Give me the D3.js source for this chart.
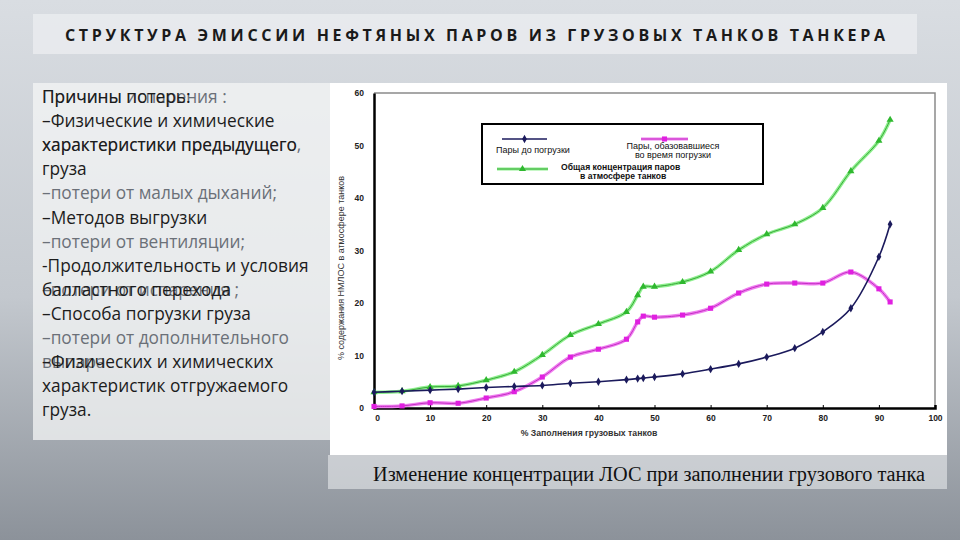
<!DOCTYPE html>
<html>
<head>
<meta charset="utf-8">
<script src="https://cdn.jsdelivr.net/npm/d3@7"></script>
<style>
  html, body { margin: 0; padding: 0; }
  body { width: 960px; height: 540px; overflow: hidden; }
  svg { display: block; }
</style>
</head>
<body>
<svg id="chart" width="960" height="540"></svg>
<script>
// data
var fillPct = [0, 5, 10, 15, 20, 25, 30, 35, 40, 45, 47, 48, 50, 55, 60, 65, 70, 75, 80, 85, 90, 92];
var vaporsBefore = [3.0, 3.2, 3.4, 3.6, 3.9, 4.1, 4.3, 4.7, 5.0, 5.4, 5.6, 5.7, 5.9, 6.5, 7.4, 8.4, 9.7, 11.4, 14.5, 19.0, 28.8, 35.0];
var vaporsDuring = [0.3, 0.4, 1.0, 0.9, 1.9, 3.1, 5.9, 9.7, 11.2, 13.1, 16.4, 17.5, 17.3, 17.7, 19.0, 21.9, 23.6, 23.8, 23.8, 25.9, 22.7, 20.2];
var vaporsTotal = [3.0, 3.2, 4.0, 4.2, 5.3, 6.9, 10.1, 13.9, 16.0, 18.3, 21.5, 23.1, 23.1, 24.0, 26.0, 30.1, 33.1, 35.0, 38.1, 45.1, 50.9, 54.9];
var xTicks = [0, 10, 20, 30, 40, 50, 60, 70, 80, 90, 100];
var yTicks = [0, 10, 20, 30, 40, 50, 60];

var titleText = "СТРУКТУРА  ЭМИССИИ НЕФТЯНЫХ ПАРОВ ИЗ ГРУЗОВЫХ ТАНКОВ ТАНКЕРА";
var captionText = "Изменение концентрации  ЛОС при заполнении грузового танка";
// two text layers that overlap on the slide
var linesDark = [
  [0, "Причины потерь:"], [1, "–Физические и химические"], [2, "характеристики предыдущего"],
  [3, "груза"], [5, "–Методов выгрузки"], [7, "-Продолжительность и условия"],
  [8, "балластного перехода"], [9, "–Способа  погрузки груза"], [11, "–Физических и химических"],
  [12, "характеристик отгружаемого"], [13, "груза."]
];
var linesGrey = [
  [0, "Причины испарения :"], [2, "характеристики предыдущего,"], [4, "–потери от малых дыханий;"],
  [6, "–потери от вентиляции;"], [8, "–потери от испарения ;"], [10, "–потери от дополнительного"],
  [11, "выпара"]
];

var svg = d3.select("#chart");
var defs = svg.append("defs");

// background gradient
var bg = defs.append("linearGradient").attr("id", "bg")
    .attr("x1", 0).attr("y1", 0).attr("x2", 0).attr("y2", 1);
bg.append("stop").attr("offset", "0%").attr("stop-color", "#d9dde2");
bg.append("stop").attr("offset", "55%").attr("stop-color", "#c3c8ce");
bg.append("stop").attr("offset", "100%").attr("stop-color", "#8c929a");
svg.append("rect").attr("width", 960).attr("height", 540).attr("fill", "url(#bg)");

// title band
svg.append("rect").attr("x", 33).attr("y", 14).attr("width", 884).attr("height", 40)
    .attr("fill", "#eef0f2").attr("opacity", 0.7);
svg.append("text").attr("x", 65).attr("y", 41)
    .attr("textLength", 820).attr("lengthAdjust", "spacing")
    .attr("font-family", "'Open Sans', sans-serif").attr("font-size", 16).attr("font-weight", 700)
    .attr("fill", "#1a1a1a").text(titleText);

// left text panel
svg.append("rect").attr("x", 33).attr("y", 83).attr("width", 297).attr("height", 357)
    .attr("fill", "#f4f5f6").attr("opacity", 0.75);

var lineY = function(i) { return 103 + i * 24.1; };
svg.append("g").selectAll("text").data(linesGrey).enter().append("text")
    .attr("x", 42).attr("y", function(d) { return lineY(d[0]); })
    .attr("font-family", "'Open Sans', sans-serif").attr("font-size", 17.3)
    .attr("fill", "#6b7078").text(function(d) { return d[1]; });
svg.append("g").selectAll("text").data(linesDark).enter().append("text")
    .attr("x", 42).attr("y", function(d) { return lineY(d[0]); })
    .attr("font-family", "'Open Sans', sans-serif").attr("font-size", 17.3)
    .attr("fill", "#1c1c1c").text(function(d) { return d[1]; });

// chart panel and caption band
svg.append("rect").attr("x", 330).attr("y", 83).attr("width", 617).attr("height", 372)
    .attr("fill", "#ffffff");
svg.append("rect").attr("x", 328).attr("y", 455).attr("width", 619).attr("height", 34)
    .attr("fill", "#eef0f2").attr("opacity", 0.55);
svg.append("text").attr("x", 373).attr("y", 481)
    .attr("textLength", 552).attr("lengthAdjust", "spacingAndGlyphs")
    .attr("font-family", "'Liberation Serif', 'Times New Roman', serif").attr("font-size", 20)
    .attr("fill", "#111").text(captionText);

// scales
var x = d3.scaleLinear().domain([0, 100]).range([374, 935]);
var y = d3.scaleLinear().domain([0, 60]).range([408, 93]);

// frame
svg.append("path")
    .attr("d", "M" + x(0) + "," + y(60) + "H" + x(100) + "V" + y(0))
    .attr("fill", "none").attr("stroke", "#8a8a8a").attr("stroke-width", 1.5);

// axes
var xAxis = svg.append("g").attr("transform", "translate(0," + y(0) + ")")
    .call(d3.axisBottom(x).tickValues(xTicks).tickSize(-3).tickPadding(7));
var yAxis = svg.append("g").attr("transform", "translate(" + x(0) + ",0)")
    .call(d3.axisLeft(y).tickValues(yTicks).tickSize(0).tickPadding(10));
[xAxis, yAxis].forEach(function(a) {
  a.select(".domain").attr("stroke", "#000").attr("stroke-width", 2.5);
  a.selectAll(".tick line").attr("stroke", "#000");
  a.selectAll(".tick text").attr("font-family", "Arial, 'Liberation Sans', sans-serif")
      .attr("font-size", 8.5).attr("font-weight", "bold").attr("fill", "#222");
});
xAxis.select(".tick text").attr("dx", 3);

svg.append("text").attr("x", 589).attr("y", 436).attr("text-anchor", "middle")
    .attr("font-family", "Arial, 'Liberation Sans', sans-serif").attr("font-size", 8.7)
    .attr("font-weight", "bold").attr("fill", "#333").text("% Заполнения грузовых танков");
svg.append("text").attr("transform", "translate(344,268) rotate(-90)").attr("text-anchor", "middle")
    .attr("font-family", "Arial, 'Liberation Sans', sans-serif").attr("font-size", 9)
    .attr("fill", "#333").text("% содержания НМЛОС  в атмосфере танков");

// series
var line = d3.line()
    .x(function(d) { return x(d[0]); })
    .y(function(d) { return y(d[1]); })
    .curve(d3.curveCatmullRom.alpha(0.5));

function pairs(vals) { return fillPct.map(function(p, i) { return [p, vals[i]]; }); }

var series = [
  { vals: vaporsTotal, halo: "#8ef08e", stroke: "#3aa83a", fill: "#2fb82f", symbol: d3.symbolTriangle, size: 22 },
  { vals: vaporsDuring, halo: "#f07ef0", stroke: "#c42fc4", fill: "#e020e0", symbol: d3.symbolSquare, size: 26 },
  { vals: vaporsBefore, halo: null, stroke: "#1b1a5c", fill: "#1b1a5c", symbol: d3.symbolDiamond, size: 20 }
];

series.forEach(function(s) {
  var pts = pairs(s.vals);
  if (s.halo) {
    svg.append("path").datum(pts).attr("d", line).attr("fill", "none")
        .attr("stroke", s.halo).attr("stroke-width", 3.5);
  }
  svg.append("path").datum(pts).attr("d", line).attr("fill", "none")
      .attr("stroke", s.stroke).attr("stroke-width", s.halo ? 1 : 1.6);
  svg.append("g").selectAll("path").data(pts).enter().append("path")
      .attr("transform", function(d) { return "translate(" + x(d[0]) + "," + y(d[1]) + ")"; })
      .attr("d", d3.symbol().type(s.symbol).size(s.size))
      .attr("fill", s.fill);
});

// legend
var lg = svg.append("g");
lg.append("rect").attr("x", 482).attr("y", 124).attr("width", 281).attr("height", 60)
    .attr("fill", "#fff").attr("stroke", "#000").attr("stroke-width", 2);
var legendItems = [
  { x1: 502, x2: 547, y: 139, s: series[2] },
  { x1: 641, x2: 688, y: 139, s: series[1] },
  { x1: 497, x2: 548, y: 169, s: series[0] }
];
legendItems.forEach(function(it) {
  if (it.s.halo) {
    lg.append("line").attr("x1", it.x1).attr("x2", it.x2).attr("y1", it.y).attr("y2", it.y)
        .attr("stroke", it.s.halo).attr("stroke-width", 3);
  }
  lg.append("line").attr("x1", it.x1).attr("x2", it.x2).attr("y1", it.y).attr("y2", it.y)
      .attr("stroke", it.s.stroke).attr("stroke-width", it.s.halo ? 1 : 1.6);
  lg.append("path").attr("transform", "translate(" + ((it.x1 + it.x2) / 2) + "," + it.y + ")")
      .attr("d", d3.symbol().type(it.s.symbol).size(it.s.size)).attr("fill", it.s.fill);
});
var lgFont = "Arial, 'Liberation Sans', sans-serif";
lg.append("text").attr("x", 496).attr("y", 153).attr("font-family", lgFont).attr("font-size", 9)
    .attr("fill", "#111").text("Пары  до погрузки");
lg.append("text").attr("x", 673).attr("y", 149).attr("text-anchor", "middle").attr("font-family", lgFont)
    .attr("font-size", 9).attr("fill", "#111").text("Пары, обазовавшиеся");
lg.append("text").attr("x", 673).attr("y", 158).attr("text-anchor", "middle").attr("font-family", lgFont)
    .attr("font-size", 9).attr("fill", "#111").text("во время погрузки");
lg.append("text").attr("x", 561).attr("y", 170).attr("font-family", lgFont).attr("font-size", 8.6)
    .attr("font-weight", "bold").attr("fill", "#111").text("Общая концентрация паров");
lg.append("text").attr("x", 580).attr("y", 179).attr("font-family", lgFont).attr("font-size", 8.6)
    .attr("font-weight", "bold").attr("fill", "#111").text("в атмосфере танков");
</script>
</body>
</html>
